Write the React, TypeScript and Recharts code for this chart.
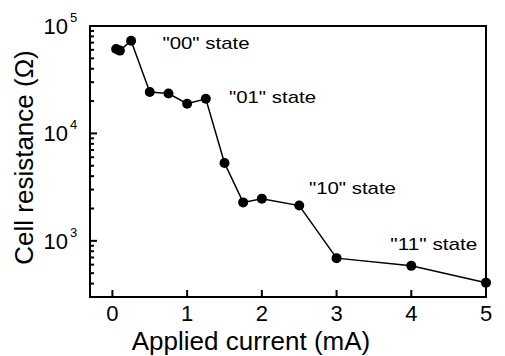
import { ComposedChart, Line, Scatter, XAxis, YAxis, ReferenceArea } from 'recharts';

// applied current (mA) and measured cell resistance (ohm)
const current = [0.05, 0.1, 0.25, 0.5, 0.75, 1.0, 1.25, 1.5, 1.75, 2.0, 2.5, 3.0, 4.0, 5.0];
const resistance = [61000, 59000, 73000, 24300, 23500, 18900, 21000, 5300, 2280, 2470, 2130, 690, 585, 408];

// state annotations
const noteText = ['"00" state', '"01" state', '"10" state', '"11" state'];
const noteX = [0.67, 1.56, 2.63, 3.72];
const noteY = [68700, 21400, 3050, 915];

const xDomain = [-0.3, 5];
const yDomain = [300, 100000];
const xTicks = [0, 1, 2, 3, 4, 5];
const yMajor = [1000, 10000, 100000];
const yTicks = [400, 500, 600, 700, 800, 900, 1000, 2000, 3000, 4000, 5000, 6000, 7000, 8000, 9000, 10000, 20000, 30000, 40000, 50000, 60000, 70000, 80000, 90000, 100000];

const points = current.map((c, i) => ({ x: c, r: resistance[i] }));
const notes = noteText.map((t, i) => ({ x: noteX[i], r: noteY[i], text: t }));

const FONT = '"Liberation Sans", Arial, sans-serif';

function YTick(props: any) {
  const { x, y, payload } = props;
  const v = payload.value;
  const major = yMajor.includes(v);
  return (
    <g>
      <line x1={x} y1={y} x2={x + (major ? 7 : 4)} y2={y} stroke="#000" strokeWidth={2} />
      {major && (
        <text fontFamily={FONT} fill="#000">
          <tspan x={x - 22} y={y + 8} fontSize={22} textAnchor="end">10</tspan>
          <tspan x={x - 20} y={y - 4} fontSize={13}>{Math.round(Math.log10(v))}</tspan>
        </text>
      )}
    </g>
  );
}

function XTick(props: any) {
  const { x, y, payload } = props;
  const y0 = y - 8; // axis line (tickSize 6 + tickMargin 2)
  return (
    <g>
      <line x1={x} y1={y0} x2={x} y2={y0 - 7} stroke="#000" strokeWidth={2} />
      <text x={x} y={y0 + 24} fontSize={22} fontFamily={FONT} textAnchor="middle" fill="#000">
        {payload.value}
      </text>
    </g>
  );
}

function Note(props: any) {
  const { cx, cy, payload } = props;
  return (
    <text x={cx} y={cy} dominantBaseline="central" fontSize={17} fontFamily={FONT} fill="#000"
      textLength={87} lengthAdjust="spacingAndGlyphs">
      {payload.text}
    </text>
  );
}

export default function App() {
  return (
    <div style={{ position: 'absolute', left: 0, top: 0, width: 505, height: 356 }}>
      <ComposedChart width={505} height={356} margin={{ top: 26, right: 19, left: 0, bottom: 0 }}>
        <XAxis
          xAxisId="b" type="number" dataKey="x" domain={xDomain} ticks={xTicks}
          height={59} tickSize={6} tickMargin={2} tick={<XTick />} tickLine={false}
          axisLine={{ stroke: '#000', strokeWidth: 2 }}
        />
        <YAxis
          yAxisId="l" scale="log" domain={yDomain} ticks={yTicks} allowDataOverflow
          width={90} tickSize={0} tickMargin={0} tick={<YTick />} interval={0}
          axisLine={{ stroke: '#000', strokeWidth: 2 }}
          label={({ viewBox }: any) => (
            <text x={24} y={viewBox.y + viewBox.height / 2 - 4} fontSize={26} fontFamily={FONT}
              textAnchor="middle" dominantBaseline="central" fill="#000"
              transform={`rotate(-90 24 ${viewBox.y + viewBox.height / 2 - 4})`}>Cell resistance (Ω)</text>
          )}
        />
        <ReferenceArea xAxisId="b" yAxisId="l" x1={xDomain[0]} x2={xDomain[1]} y1={yDomain[0]} y2={yDomain[1]}
          ifOverflow="visible" fill="#fff" fillOpacity={0} stroke="#000" strokeWidth={2} />
        <Line
          xAxisId="b" yAxisId="l" data={points} dataKey="r" stroke="#000" strokeWidth={1.5}
          dot={{ r: 5, fill: '#000', stroke: '#000', strokeWidth: 0 }} isAnimationActive={false}
        />
        <Scatter xAxisId="b" yAxisId="l" data={notes} dataKey="r" shape={<Note />} isAnimationActive={false} />
      </ComposedChart>
      <div style={{ position: 'absolute', left: 0, top: 328, width: 502, textAlign: 'center', fontSize: 26,
        lineHeight: '26px', fontFamily: FONT, color: '#000' }}>
        Applied current (mA)
      </div>
    </div>
  );
}
